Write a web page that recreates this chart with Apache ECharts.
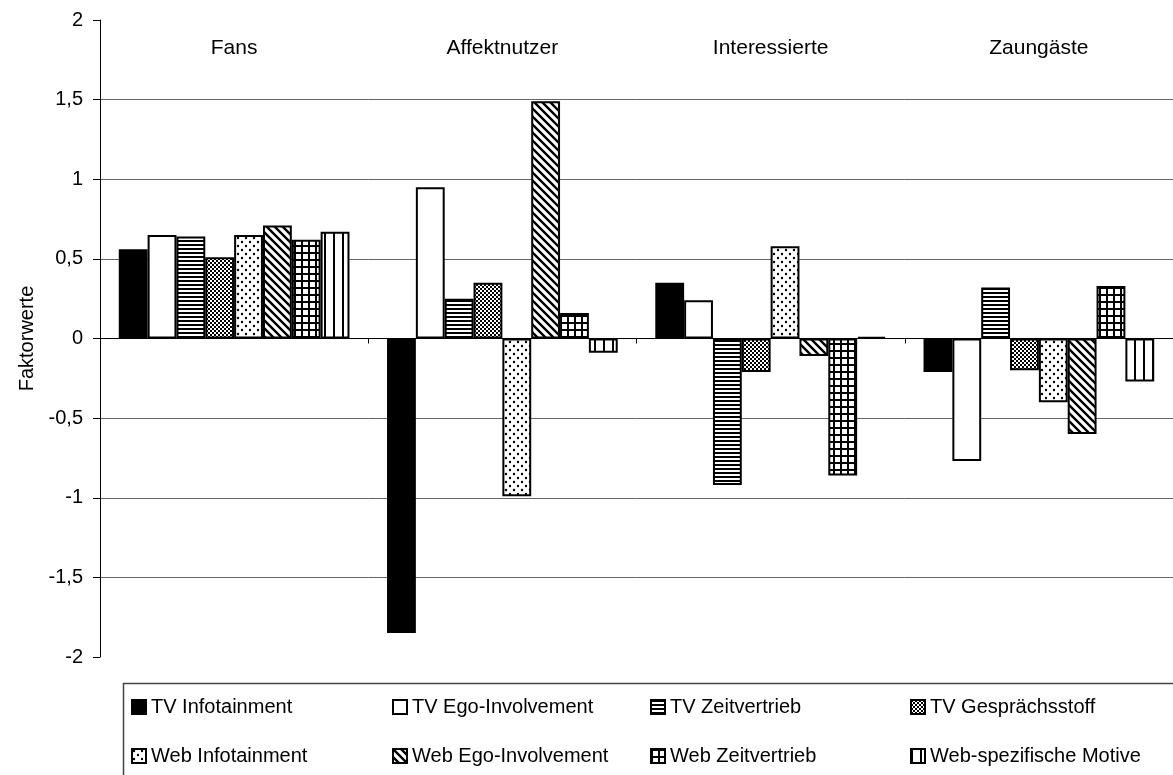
<!DOCTYPE html>
<html>
<head>
<meta charset="utf-8">
<script src="https://cdn.jsdelivr.net/npm/echarts@6/dist/echarts.min.js"></script>
<style>
html, body { margin: 0; padding: 0; background: #fff; }
#main { width: 1173px; height: 775px; }
</style>
</head>
<body>
<div id="main"></div>
<script>
// Clustergruppen und Motive
const groups = ['Fans', 'Affektnutzer', 'Interessierte', 'Zaungäste'];
const motive = ['TV Infotainment', 'TV Ego-Involvement', 'TV Zeitvertrieb', 'TV Gesprächsstoff',
                'Web Infotainment', 'Web Ego-Involvement', 'Web Zeitvertrieb', 'Web-spezifische Motive'];

// Faktorwerte je Gruppe
const tvInfotainment = [0.56, -1.85, 0.35, -0.21];
const tvEgo          = [0.65, 0.95, 0.24, -0.77];
const tvZeit         = [0.64, 0.25, -0.92, 0.32];
const tvGespraech    = [0.51, 0.35, -0.21, -0.20];
const webInfo        = [0.65, -0.99, 0.58, -0.40];
const webEgo         = [0.71, 1.49, -0.11, -0.60];
const webZeit        = [0.62, 0.16, -0.86, 0.33];
const webSpez        = [0.67, -0.09, 0.01, -0.27];

const values = [tvInfotainment, tvEgo, tvZeit, tvGespraech, webInfo, webEgo, webZeit, webSpez];
const yTicks = { min: -2, max: 2, step: 0.5 };

// Schraffuren als kleine Canvas-Kacheln
function tile(w, h, draw) {
    let c = document.createElement('canvas');
    c.width = w; c.height = h;
    let ctx = c.getContext('2d');
    ctx.fillStyle = '#fff';
    ctx.fillRect(0, 0, w, h);
    ctx.fillStyle = '#000';
    ctx.strokeStyle = '#000';
    draw(ctx);
    return { image: c, repeat: 'repeat' };
}

let fills = [
    '#000',
    '#fff',
    tile(4, 4, ctx => ctx.fillRect(0, 0, 4, 2)),
    tile(4, 4, ctx => { ctx.fillRect(0, 0, 2, 2); ctx.fillRect(2, 2, 2, 2); }),
    tile(8, 8, ctx => {
        ctx.beginPath(); ctx.arc(2, 2, 1.2, 0, Math.PI * 2); ctx.fill();
        ctx.beginPath(); ctx.arc(6, 6, 1.2, 0, Math.PI * 2); ctx.fill();
    }),
    tile(8, 8, ctx => {
        ctx.lineWidth = 2.4;
        ctx.beginPath();
        ctx.moveTo(-2, -2); ctx.lineTo(10, 10);
        ctx.moveTo(-2, 6); ctx.lineTo(2, 10);
        ctx.moveTo(6, -2); ctx.lineTo(10, 2);
        ctx.stroke();
    }),
    tile(7, 7, ctx => { ctx.fillRect(0, 0, 7, 2); ctx.fillRect(0, 0, 2, 7); }),
    tile(9, 2, ctx => ctx.fillRect(0, 0, 2, 2))
];

let legendCols = [131, 392, 650, 910];
let legendRows = [697, 746];

let legends = motive.map((name, i) => ({
    data: [name],
    left: legendCols[i % 4],
    top: legendRows[Math.floor(i / 4)],
    padding: 0,
    icon: 'rect',
    itemWidth: 14,
    itemHeight: 14,
    selectedMode: false,
    textStyle: { color: '#000', fontSize: 20, fontFamily: 'Liberation Sans' }
}));

let series = motive.map((name, i) => ({
    name: name,
    type: 'bar',
    data: values[i],
    barGap: '0%',
    barCategoryGap: '14%',
    itemStyle: { color: fills[i], borderColor: '#000', borderWidth: 2 }
}));

let myChart = echarts.init(document.getElementById('main'));
myChart.setOption({
    animation: false,
    backgroundColor: '#fff',
    textStyle: { fontFamily: 'Liberation Sans' },
    grid: { left: 100, right: 0, top: 20, bottom: 118 },
    legend: legends,
    graphic: [{
        type: 'rect',
        shape: { x: 123.5, y: 683.5, width: 1100, height: 200 },
        style: { fill: 'none', stroke: '#444', lineWidth: 1.5 },
        silent: true
    }],
    xAxis: [{
        type: 'category',
        data: groups,
        axisLine: { onZero: true, lineStyle: { color: '#000', width: 1 } },
        axisTick: { show: true, interval: 0, length: 5, lineStyle: { color: '#000' } },
        axisLabel: { show: false }
    }, {
        type: 'category',
        data: groups,
        position: 'top',
        axisLine: { show: false },
        axisTick: { show: false },
        axisLabel: { inside: true, margin: 18, color: '#000', fontSize: 21, fontFamily: 'Liberation Sans' }
    }],
    yAxis: {
        type: 'value',
        min: yTicks.min,
        max: yTicks.max,
        interval: yTicks.step,
        name: 'Faktorwerte',
        nameLocation: 'middle',
        nameGap: 62,
        nameTextStyle: { color: '#000', fontSize: 20, fontFamily: 'Liberation Sans' },
        axisLine: { show: true, lineStyle: { color: '#000', width: 1 } },
        axisTick: { show: true, length: 7, lineStyle: { color: '#000' } },
        axisLabel: {
            color: '#000', fontSize: 20, margin: 17, fontFamily: 'Liberation Sans',
            formatter: v => String(v).replace('.', ',')
        },
        splitLine: { show: true, showMinLine: false, showMaxLine: false, lineStyle: { color: '#666', width: 1 } }
    },
    series: series
});
</script>
</body>
</html>
